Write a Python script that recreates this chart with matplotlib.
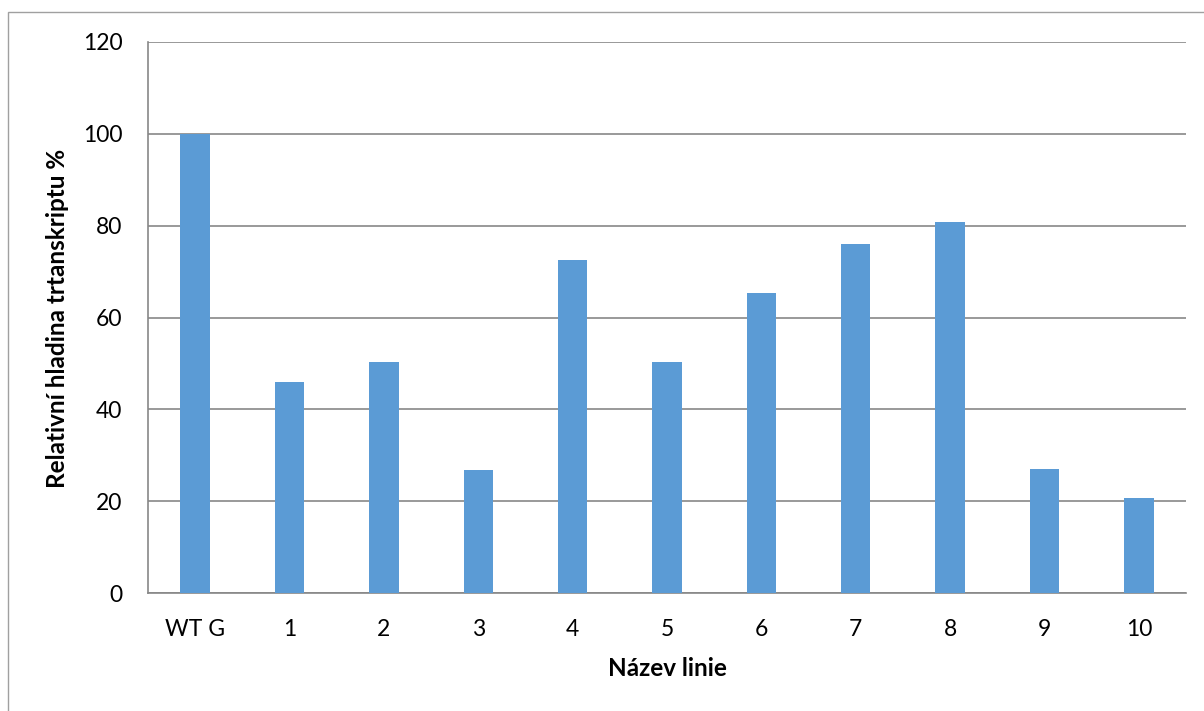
import matplotlib
matplotlib.use("Agg")
import matplotlib.pyplot as plt
from matplotlib.patches import Rectangle

categories = ["WT G", "1", "2", "3", "4", "5", "6", "7", "8", "9", "10"]
values = [100.0, 45.9, 50.4, 26.7, 72.6, 50.3, 65.4, 76.1, 80.9, 27.1, 20.6]
yticks = [0, 20, 40, 60, 80, 100, 120]

plt.rcParams['font.family'] = ['Lato', 'DejaVu Sans']

W, H = 1204, 711
fig = plt.figure(figsize=(W / 100, H / 100), dpi=100)
ax = fig.add_axes([148 / W, 1 - 593 / H, (1186 - 148) / W, (593 - 42) / H])

x = list(range(len(categories)))
ax.bar(x, values, width=0.313, color="#5B9BD5", zorder=3)
ax.set_xlim(-0.5, len(categories) - 0.5)
ax.set_ylim(0, 120)
ax.set_yticks(yticks)
ax.set_xticks(x)
ax.set_xticklabels(categories)
ax.grid(axis="y", color="#878787", linewidth=1.2, zorder=0)
ax.tick_params(axis="both", length=0, labelsize=16.5, colors="black")
ax.tick_params(axis="y", pad=18.5)
ax.tick_params(axis="x", pad=18.5)
for s in ["top", "right"]:
    ax.spines[s].set_visible(False)
for s in ["left", "bottom"]:
    ax.spines[s].set_color("#878787")
    ax.spines[s].set_linewidth(1.2)

ax.set_ylabel("Relativní hladina trtanskriptu %", fontsize=17.5, fontweight="bold", va="center")
ax.yaxis.set_label_coords((58 - 148) / 1038, 0.498)
ax.set_xlabel("Název linie", fontsize=17.5, fontweight="bold", va="center")
ax.xaxis.set_label_coords(0.5, (593 - 669) / 551)

# chart area border (partially visible)
fig.patches.append(Rectangle((8 / W, -0.1), 1.2, 1 - 12 / H + 0.1, transform=fig.transFigure,
                             fill=False, edgecolor="#A0A0A0", linewidth=1.0))

fig.savefig("out.png", dpi=100)
